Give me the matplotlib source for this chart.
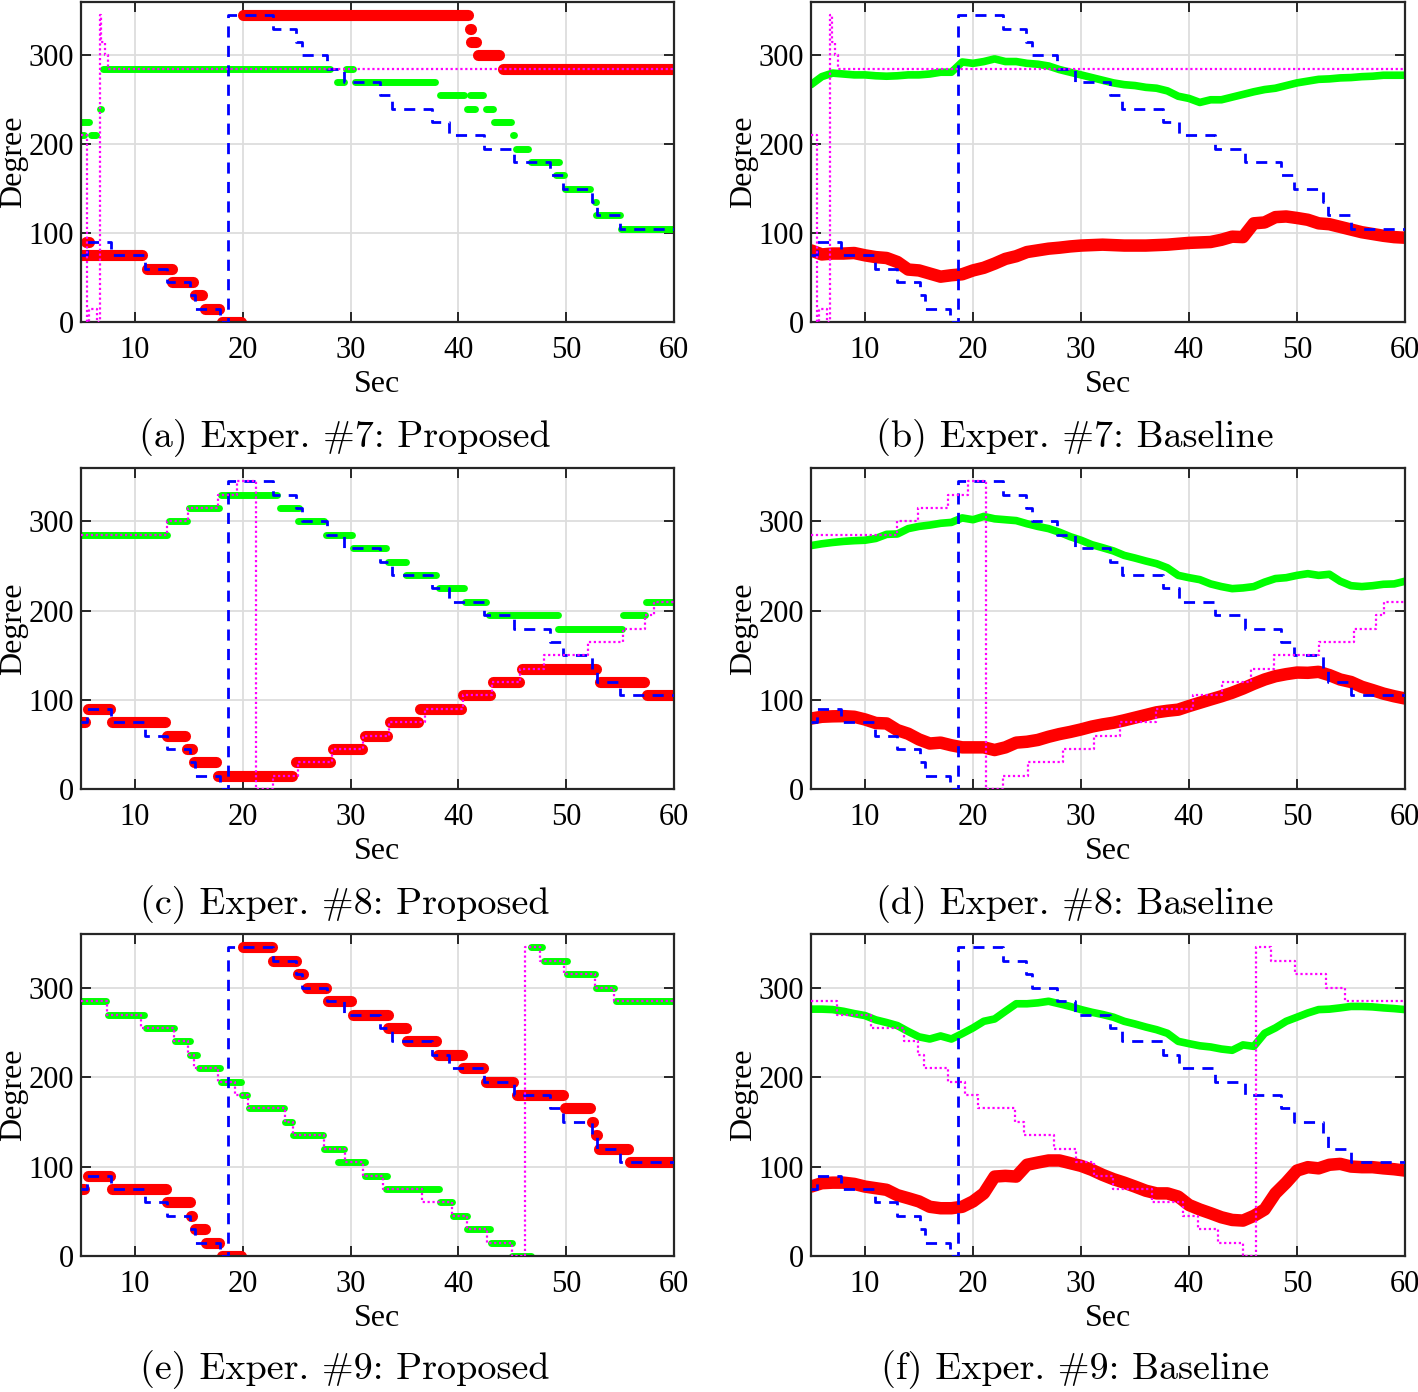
import numpy as np
import matplotlib
matplotlib.use("Agg")
import matplotlib.pyplot as plt

plt.rcParams["font.family"] = ["Liberation Serif", "DejaVu Serif"]

W, H = 1418, 1392

# shared reference schedule (blue dashed)
blue_t = [5, 5.6, 7.8, 10.9, 13.0, 15.1, 15.6, 17.9, 18.6, 22.8, 24.9, 25.5, 27.8, 29.4,
          32.7, 33.8, 37.6, 39.1, 42.4, 45.2, 48.5, 49.7, 52.4, 52.9, 55.0, 60]
blue_deg = [75, 90, 75, 60, 45, 30, 15, 0, 345, 330, 315, 300, 285, 270,
            255, 240, 225, 210, 195, 180, 165, 150, 135, 120, 105, 105]

# second reference (magenta dotted), per experiment
mag7_t = [5, 5.56, 5.7, 6.5, 6.76, 6.9, 7.2, 7.5, 60]
mag7_deg = [210, 0, 15, 0, 345, 315, 300, 285, 285]
mag8_t = [5, 13.0, 14.9, 17.7, 19.5, 21.2, 22.8, 25.1, 28.3, 31.2, 33.6, 36.9, 40.4,
          43.1, 45.7, 47.9, 52.0, 55.3, 57.3, 58.1, 60]
mag8_deg = [285, 300, 315, 330, 345, 0, 15, 30, 45, 60, 75, 90, 105,
            120, 135, 150, 165, 180, 195, 210, 210]
mag9_t = [5, 7.4, 10.6, 13.6, 14.9, 15.5, 17.7, 19.3, 20.5, 23.9, 24.7, 27.5, 29.5,
          31.2, 33.0, 36.6, 39.4, 40.8, 42.7, 45.0, 46.2, 47.6, 49.8, 52.7, 54.4, 60]
mag9_deg = [285, 270, 255, 240, 225, 210, 195, 180, 165, 150, 135, 120, 105,
            90, 75, 60, 45, 30, 15, 0, 345, 330, 315, 300, 285, 285]

# proposed method: estimated levels (start, end, degree)
p7_red_start = [5.5, 5.0, 11.1, 13.4, 15.6, 16.5, 18.1, 20.0, 41.05, 41.2, 41.8, 44.1]
p7_red_end = [5.7, 10.7, 13.4, 15.4, 16.2, 17.8, 19.8, 40.9, 41.15, 41.6, 43.8, 60]
p7_red_deg = [90, 75, 60, 45, 30, 15, 0, 345, 330, 315, 300, 285]
p7_grn_start = [5.0, 5.0, 5.9, 6.75, 7.0, 28.7, 29.6, 30.4, 38.3, 41.1, 40.8, 42.6,
                43.3, 45.05, 45.3, 46.7, 49.1, 49.9, 52.65, 52.8, 55.1]
p7_grn_end = [5.75, 5.3, 6.4, 6.85, 28.1, 29.4, 30.2, 37.8, 40.5, 42.3, 41.5, 43.2,
              44.9, 45.15, 46.5, 49.3, 49.8, 52.2, 52.75, 55.0, 60]
p7_grn_deg = [225, 210, 210, 240, 285, 270, 285, 270, 255, 255, 240, 240,
              225, 210, 195, 180, 165, 150, 135, 120, 105]

p8_red_start = [5.0, 5.65, 7.9, 13.0, 14.8, 15.5, 17.7, 24.9, 28.4, 31.3, 33.7, 36.4,
                40.4, 43.2, 45.9, 53.1, 57.5]
p8_red_end = [5.4, 7.7, 12.8, 14.6, 15.3, 17.5, 24.6, 28.1, 31.1, 33.4, 36.3, 40.2,
              42.9, 45.6, 52.8, 57.2, 60]
p8_red_deg = [75, 90, 75, 60, 45, 30, 15, 30, 45, 60, 75, 90,
              105, 120, 135, 120, 105]
p8_grn_start = [5.0, 13.2, 15.0, 18.0, 23.5, 25.1, 27.7, 30.2, 33.5, 35.1, 38.2, 40.6,
                42.8, 49.2, 55.3, 57.4]
p8_grn_end = [13.0, 14.8, 17.8, 23.2, 25.2, 27.5, 30.1, 33.3, 35.1, 37.9, 40.5, 42.6,
              49.2, 55.2, 57.3, 60]
p8_grn_deg = [285, 300, 315, 330, 315, 300, 285, 270, 255, 240, 225, 210,
              195, 180, 195, 210]

p9_red_start = [5.0, 5.65, 7.9, 13.0, 15.2, 15.6, 16.6, 18.1, 20.0, 22.8, 25.1, 26.0,
                27.9, 30.2, 33.5, 35.2, 38.1, 40.4, 42.6, 45.4, 49.9, 52.35, 52.75, 53.0, 55.9]
p9_red_end = [5.3, 7.7, 12.9, 15.1, 15.3, 16.5, 17.8, 19.8, 22.7, 24.9, 25.6, 27.7,
              30.0, 33.5, 35.1, 37.9, 40.3, 42.3, 45.1, 49.7, 52.2, 52.45, 52.85, 55.7, 60]
p9_red_deg = [75, 90, 75, 60, 45, 30, 15, 0, 345, 330, 315, 300,
              285, 270, 255, 240, 225, 210, 195, 180, 165, 150, 135, 120, 105]
p9_grn_start = [5.0, 7.5, 11.0, 13.7, 15.1, 15.9, 18.0, 19.9, 20.6, 23.9, 24.7, 27.5,
                28.8, 31.3, 33.3, 38.3, 39.5, 40.8, 43.0, 45.0, 46.7, 47.9, 50.1, 52.8, 54.6]
p9_grn_end = [7.3, 10.8, 13.6, 15.1, 15.8, 17.9, 19.8, 20.4, 23.8, 24.6, 27.4, 29.4,
              31.3, 33.4, 38.2, 39.4, 40.8, 42.9, 45.0, 46.7, 47.8, 50.1, 52.7, 54.4, 60]
p9_grn_deg = [285, 270, 255, 240, 225, 210, 195, 180, 165, 150, 135, 120,
              105, 90, 75, 60, 45, 30, 15, 0, 345, 330, 315, 300, 285]

# baseline method: estimated trajectories
sec = [5, 6, 7, 8, 9, 10, 11, 12, 13, 14, 15, 16, 17, 18, 19, 20, 21, 22, 23, 24, 25, 26,
       27, 28, 29, 30, 31, 32, 33, 34, 35, 36, 37, 38, 39, 40, 41, 42, 43, 44, 45, 46,
       47, 48, 49, 50, 51, 52, 53, 54, 55, 56, 57, 58, 59, 60]
b7_grn = [267, 276, 280, 279, 278, 278, 277, 276.5, 277, 278, 278, 279, 281, 281, 292.5,
          291, 293, 296, 293, 293, 291, 290, 288, 284, 281, 278, 275, 272, 269, 267, 266,
          264, 263, 260, 254, 251.5, 247, 250, 250, 253, 256, 259, 261.5, 263, 266, 269,
          271, 273, 273.5, 274.6, 275, 276, 276.5, 277.6, 277.6, 277.6]
b7_red = [80.6, 76, 77, 77, 77.6, 75, 73, 72, 67.5, 59, 58, 54.5, 51, 52.6, 53.7, 58, 61,
          65.7, 71, 74, 78.7, 80.6, 82.5, 83.6, 85, 86, 86.5, 87, 86.5, 86, 86, 86, 86.5,
          87, 88, 89, 89.5, 90, 92.5, 96, 95.5, 111, 112, 118, 118.7, 117, 115, 111, 110,
          107, 104, 101, 99, 97, 95.5, 94.8]
b8_grn = [273, 275, 276.5, 277.7, 278.5, 279, 281, 285.6, 286, 292, 294.5, 296, 298, 299,
          304, 302, 305.7, 303, 302, 301, 297.5, 294.5, 292, 288, 283, 279, 274, 270.6,
          267, 262, 259, 255.7, 252.7, 248, 239.6, 237, 234.8, 230, 227, 224.7, 225.5,
          227, 232, 236, 237, 239.6, 241.5, 239.6, 240.8, 233, 228, 227, 228, 229.6, 230,
          233]
b8_red = [79, 81, 81.5, 81.7, 81, 78, 74, 73.5, 66, 62, 55.6, 51, 52, 49, 46.7, 46.7, 46.7,
          43.7, 46.7, 52, 53, 55, 58.6, 61.6, 64, 66.8, 70, 72.4, 74.3, 77, 80, 83, 86,
          87.7, 89, 93, 96.7, 100.4, 104, 108, 112.7, 118, 122.8, 126.5, 128.8, 130.6,
          130.3, 131.4, 127.7, 122.8, 120, 114.6, 110.9, 107, 104, 101.5]
b9_grn = [276, 276, 275.5, 273.6, 271, 268.8, 264, 261, 257.6, 251, 245, 242.6, 246, 242.6,
          248.6, 255, 262.4, 265, 273.6, 282, 282, 283, 284.8, 282, 279, 275.5, 272.5, 270,
          267, 262.4, 259.4, 256, 253, 249, 240, 237.4, 235, 233.7, 231.4, 230, 236, 234.4,
          249, 255, 262.4, 267, 271.7, 275.5, 276, 277.4, 279, 279, 278.5, 277.4, 276.6,
          275.5]
b9_red = [77.6, 81.4, 82, 82, 80.6, 77.6, 75.8, 74, 68, 64.6, 61, 55, 53.4, 53.4, 55, 61,
          70, 88.8, 89.6, 88.8, 102, 104.5, 106.8, 106.8, 103.8, 100.8, 96.3, 90.7, 85.9,
          82, 77.6, 73, 70, 70, 66.4, 57, 52, 47.8, 43.3, 40.3, 39.6, 44.8, 52, 70, 82, 95.5,
          99.3, 98, 102, 103, 100, 99.3, 99.3, 98, 97, 95.5]

captions = ["(a) Exper. #7: Proposed", "(b) Exper. #7: Baseline",
            "(c) Exper. #8: Proposed", "(d) Exper. #8: Baseline",
            "(e) Exper. #9: Proposed", "(f) Exper. #9: Baseline"]

RED, GREEN, BLUE, MAG = "#ff0000", "#00ff00", "#0000ff", "#ff00ff"

col_left = [81, 811]
col_width = [593, 594]
cap_x = [345, 1075]
row_top = [2, 468, 934]
row_bot = [322, 789, 1256]
cap_y = [438, 905, 1370]

proposed = [
    (p7_red_start, p7_red_end, p7_red_deg, p7_grn_start, p7_grn_end, p7_grn_deg, mag7_t, mag7_deg),
    (p8_red_start, p8_red_end, p8_red_deg, p8_grn_start, p8_grn_end, p8_grn_deg, mag8_t, mag8_deg),
    (p9_red_start, p9_red_end, p9_red_deg, p9_grn_start, p9_grn_end, p9_grn_deg, mag9_t, mag9_deg),
]
baseline = [(b7_red, b7_grn, mag7_t, mag7_deg),
            (b8_red, b8_grn, mag8_t, mag8_deg),
            (b9_red, b9_grn, mag9_t, mag9_deg)]

fig = plt.figure(figsize=(W / 100, H / 100), dpi=100)

def style_axes(ax):
    ax.set_xlim(5, 60)
    ax.set_ylim(0, 360)
    ax.set_xticks([10, 20, 30, 40, 50, 60])
    ax.set_yticks([0, 100, 200, 300])
    ax.grid(True, color="#dddddd", linewidth=1.3)
    ax.set_axisbelow(True)
    ax.tick_params(direction="in", length=7, width=1.4, top=True, right=True,
                   labelsize=22, color="#262626")
    ax.tick_params(axis="x", pad=10)
    ax.tick_params(axis="y", pad=5)
    for s in ax.spines.values():
        s.set_linewidth(1.6)
        s.set_color("#262626")
    ax.set_xlabel("Sec", fontsize=23, labelpad=4)
    ax.set_ylabel("Degree", fontsize=23, labelpad=0)

for r in range(3):
    for c in range(2):
        l = col_left[c]
        w = col_width[c]
        ax = fig.add_axes([l / W, 1 - row_bot[r] / H, w / W, (row_bot[r] - row_top[r]) / H])
        if c == 0:
            rs, re, rd, gs, ge, gd, mt, md = proposed[r]
            ax.hlines(rd, rs, re, colors=RED, linewidth=8, capstyle="round", zorder=2)
            ax.hlines(gd, gs, ge, colors=GREEN, linewidth=5, capstyle="round", zorder=2)
        else:
            red, grn, mt, md = baseline[r]
            ax.plot(sec, grn, color=GREEN, linewidth=5.5, solid_capstyle="round",
                    solid_joinstyle="round", zorder=2)
            ax.plot(sec, red, color=RED, linewidth=9, solid_capstyle="round",
                    solid_joinstyle="round", zorder=2)
        ax.step(blue_t, blue_deg, where="post", color=BLUE, linewidth=2,
                dashes=(4, 3), zorder=3)
        ax.step(mt, md, where="post", color=MAG, linewidth=1.6,
                linestyle=(0, (1, 1.2)), zorder=4)
        style_axes(ax)
        fig.text(cap_x[c] / W, 1 - cap_y[r] / H, captions[r * 2 + c],
                 ha="center", va="center", fontsize=27.5, family="cmr10")

fig.savefig("out.png", dpi=100)
